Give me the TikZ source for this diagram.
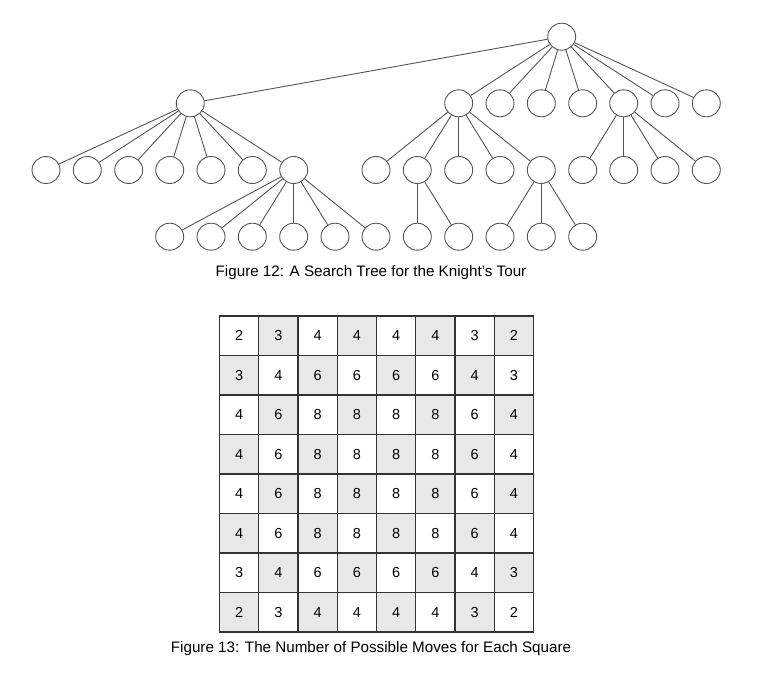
\documentclass[tikz,border=0pt]{standalone}
\usepackage{fontspec}
\setmainfont{Liberation Sans}
\usetikzlibrary{shapes.geometric}
\definecolor{cellgray}{HTML}{E8E8E8}
\definecolor{treeline}{HTML}{555555}
\definecolor{gridline}{HTML}{333333}
\begin{document}
\begin{tikzpicture}[x=1pt,y=-1pt,
  tn/.style={ellipse, draw=treeline, line width=0.9pt, minimum width=28pt, minimum height=27pt, inner sep=0pt, fill=white},
  te/.style={draw=treeline, line width=0.9pt},
  cellbox/.style={rectangle, draw=gridline, line width=1.1pt, minimum width=39.25pt, minimum height=39.5pt, inner sep=0pt, text=black, font=\fontsize{14.5}{16}\selectfont},
  caption/.style={font=\fontsize{15.2}{17}\selectfont, inner sep=0pt}]
\useasboundingbox (0,0) rectangle (760,672);
% root
\node[tn] (r) at (561.7,36.7) {};
% level 1
\node[tn] (a) at (190.3,103.3) {};
\foreach \x [count=\i] in {458.7,500,541.3,582.7,623.7,665,706.3}
  \node[tn] (b\i) at (\x,103.3) {};
% level 2
\foreach \x [count=\i] in {46,87.3,128.7,169.7,211,252.3,293.7}
  \node[tn] (c\i) at (\x,170) {};
\foreach \x [count=\i] in {376,417.3,458.7,500,541.3}
  \node[tn] (d\i) at (\x,170) {};
\foreach \x [count=\i] in {582.7,623.7,665,706.3}
  \node[tn] (e\i) at (\x,170) {};
% level 3
\foreach \x [count=\i] in {169.7,211,252.3,293.7,335,376}
  \node[tn] (f\i) at (\x,236.7) {};
\foreach \x [count=\i] in {417.3,458.7}
  \node[tn] (g\i) at (\x,236.7) {};
\foreach \x [count=\i] in {500,541.3,582.7}
  \node[tn] (h\i) at (\x,236.7) {};
% edges
\draw[te] (r) -- (a);
\foreach \i in {1,...,7} \draw[te] (r) -- (b\i);
\foreach \i in {1,...,7} \draw[te] (a) -- (c\i);
\foreach \i in {1,...,5} \draw[te] (b1) -- (d\i);
\foreach \i in {1,...,4} \draw[te] (b5) -- (e\i);
\foreach \i in {1,...,6} \draw[te] (c7) -- (f\i);
\foreach \i in {1,2} \draw[te] (d2) -- (g\i);
\foreach \i in {1,2,3} \draw[te] (d5) -- (h\i);
% caption 12
\node[caption] (cap12) at (371,273) {Figure 12: A Search Tree for the Knight’s Tour};
% board
\foreach \row [count=\r from 0] in {{2,3,4,4,4,4,3,2},{3,4,6,6,6,6,4,3},{4,6,8,8,8,8,6,4},{4,6,8,8,8,8,6,4},{4,6,8,8,8,8,6,4},{4,6,8,8,8,8,6,4},{3,4,6,6,6,6,4,3},{2,3,4,4,4,4,3,2}} {
  \foreach \v [count=\c from 0] in \row {
    \ifodd\numexpr\r+\c\relax \def\fc{cellgray}\else\def\fc{white}\fi
    \node[cellbox, fill=\fc] (cell-\r-\c) at ({219.5+39.25*\c+19.625},{316+39.5*\r+19.75}) {\v};
  }
}
\node[caption] (cap13) at (371,649) {Figure 13: The Number of Possible Moves for Each Square};
\end{tikzpicture}
\end{document}
